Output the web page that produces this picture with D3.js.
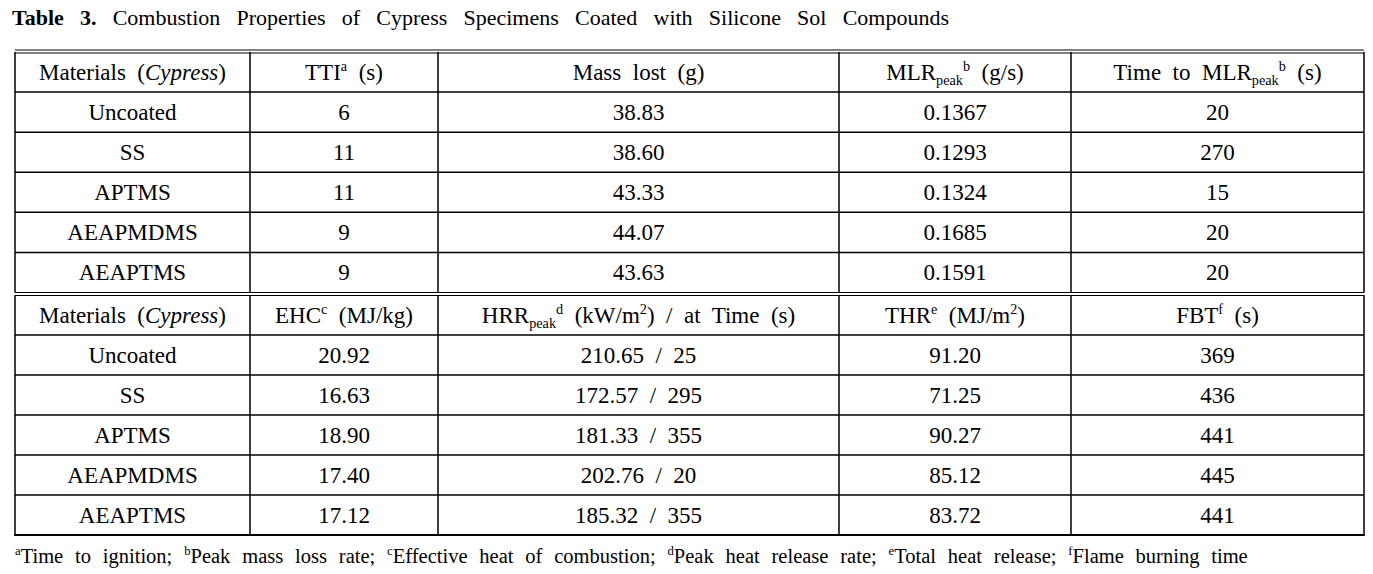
<!DOCTYPE html>
<meta charset="utf-8">
<script src="https://d3js.org/d3.v7.min.js"></script>
<style>
  body { margin: 0; background: #fff; }
  text { font-family: "Liberation Serif", "DejaVu Serif", serif; fill: #000; }
</style>
<div id="my_table"></div>
<script>

// table values
var materials = ["Uncoated", "SS", "APTMS", "AEAPMDMS", "AEAPTMS"];
var tti       = ["6", "11", "11", "9", "9"];
var massLost  = ["38.83", "38.60", "43.33", "44.07", "43.63"];
var mlrPeak   = ["0.1367", "0.1293", "0.1324", "0.1685", "0.1591"];
var timeToMlr = ["20", "270", "15", "20", "20"];
var ehc       = ["20.92", "16.63", "18.90", "17.40", "17.12"];
var hrrPeak   = ["210.65", "172.57", "181.33", "202.76", "185.32"];
var hrrTime   = ["25", "295", "355", "20", "355"];
var thr       = ["91.20", "71.25", "90.27", "85.12", "83.72"];
var fbt       = ["369", "436", "441", "445", "441"];

// header cells as pieces: [text, kind] kind = n (normal), i (italic), sup, sub
var header1 = [
  [["Materials  (", "n"], ["Cypress", "i"], [")", "n"]],
  [["TTI", "n"], ["a", "sup"], ["  (s)", "n"]],
  [["Mass  lost  (g)", "n"]],
  [["MLR", "n"], ["peak", "sub"], ["b", "sup"], ["  (g/s)", "n"]],
  [["Time  to  MLR", "n"], ["peak", "sub"], ["b", "sup"], ["  (s)", "n"]]
];
var header2 = [
  [["Materials  (", "n"], ["Cypress", "i"], [")", "n"]],
  [["EHC", "n"], ["c", "sup"], ["  (MJ/kg)", "n"]],
  [["HRR", "n"], ["peak", "sub"], ["d", "sup"], ["  (kW/m", "n"], ["2", "sup"], [")  /  at  Time  (s)", "n"]],
  [["THR", "n"], ["e", "sup"], ["  (MJ/m", "n"], ["2", "sup"], [")", "n"]],
  [["FBT", "n"], ["f", "sup"], ["  (s)", "n"]]
];
var footnote = [
  ["a", "sup"], ["Time  to  ignition;  ", "n"], ["b", "sup"], ["Peak  mass  loss  rate;  ", "n"],
  ["c", "sup"], ["Effective  heat  of  combustion;  ", "n"], ["d", "sup"], ["Peak  heat  release  rate;  ", "n"],
  ["e", "sup"], ["Total  heat  release;  ", "n"], ["f", "sup"], ["Flame  burning  time", "n"]
];

var block1 = d3.range(5).map(function(i) { return [materials[i], tti[i], massLost[i], mlrPeak[i], timeToMlr[i]]; });
var block2 = d3.range(5).map(function(i) { return [materials[i], ehc[i], hrrPeak[i] + "  /  " + hrrTime[i], thr[i], fbt[i]]; });

var width = 1373, height = 574;
var fs = 23;
var colEdges = [15, 250, 438, 839, 1071, 1364];
var x = d3.scaleLinear().domain([0, 1, 2, 3, 4, 5]).range(colEdges);
var y1 = d3.scaleLinear().domain([0, 6]).range([52, 292.5]);
var y2 = d3.scaleLinear().domain([0, 6]).range([295, 535]);

var svg = d3.select("#my_table")
  .append("svg")
    .attr("width", width)
    .attr("height", height);

function addPieces(textSel, pieces, size) {
  var shift = 0;
  pieces.forEach(function(p) {
    var t = textSel.append("tspan").text(p[0]).style("white-space", "pre");
    var target = 0;
    if (p[1] == "sup") { target = -size * 0.38; t.style("font-size", (size * 0.62) + "px"); }
    else if (p[1] == "sub") { target = size * 0.2; t.style("font-size", (size * 0.62) + "px"); }
    else if (p[1] == "i") { t.style("font-style", "italic"); }
    t.attr("dy", target - shift);
    shift = target;
  });
}

function drawBlock(y, headers, rows) {
  var g = svg.append("g");
  // header
  headers.forEach(function(h, c) {
    var t = g.append("text")
      .attr("x", (x(c) + x(c + 1)) / 2)
      .attr("y", y(0.5) + 8)
      .attr("text-anchor", "middle")
      .style("font-size", fs + "px")
      .style("white-space", "pre");
    addPieces(t, h, fs);
  });
  // rows
  rows.forEach(function(r, ri) {
    r.forEach(function(v, c) {
      g.append("text")
        .attr("x", (x(c) + x(c + 1)) / 2)
        .attr("y", y(ri + 1.5) + 8)
        .attr("text-anchor", "middle")
        .style("font-size", fs + "px")
        .style("white-space", "pre")
        .text(v);
    });
  });
  // horizontal rules between rows
  g.selectAll("line.h")
    .data(d3.range(1, 6))
    .enter().append("line")
      .attr("x1", x(0)).attr("x2", x(5))
      .attr("y1", function(d) { return y(d); })
      .attr("y2", function(d) { return y(d); })
      .attr("stroke", "#000").attr("stroke-width", 1.5);
  // vertical rules
  g.selectAll("line.v")
    .data(d3.range(0, 6))
    .enter().append("line")
      .attr("x1", function(d) { return x(d); })
      .attr("x2", function(d) { return x(d); })
      .attr("y1", y(0)).attr("y2", y(6))
      .attr("stroke", "#000").attr("stroke-width", 1.5);
}

drawBlock(y1, header1, block1);
drawBlock(y2, header2, block2);

// double rules at top and between blocks
[[50, 53], [292.5, 295.5]].forEach(function(pair) {
  pair.forEach(function(yy) {
    svg.append("line")
      .attr("x1", x(0)).attr("x2", x(5))
      .attr("y1", yy).attr("y2", yy)
      .attr("stroke", "#000").attr("stroke-width", 1.2);
  });
});
// bottom rule
svg.append("line")
  .attr("x1", x(0) - 0.75).attr("x2", x(5) + 0.75)
  .attr("y1", y2(6)).attr("y2", y2(6))
  .attr("stroke", "#000").attr("stroke-width", 1.8);

// title
var title = svg.append("text")
  .attr("x", 12)
  .attr("y", 25)
  .style("font-size", "22px")
  .style("word-spacing", "2.6px")
  .style("white-space", "pre");
title.append("tspan").style("font-weight", "bold").text("Table  3.");
title.append("tspan").text("  Combustion  Properties  of  Cypress  Specimens  Coated  with  Silicone  Sol  Compounds");

// footnote
var foot = svg.append("text")
  .attr("x", 15)
  .attr("y", 563)
  .style("font-size", "20.5px")
  .style("word-spacing", "0.8px")
  .style("white-space", "pre");
addPieces(foot, footnote, 20.5);

</script>
